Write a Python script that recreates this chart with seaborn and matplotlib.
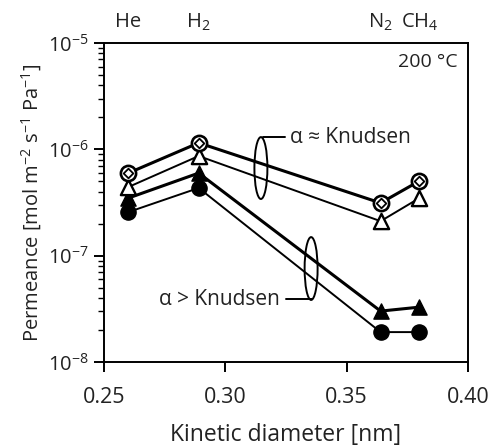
import numpy as np
import pandas as pd
import matplotlib
matplotlib.use("Agg")
import matplotlib.pyplot as plt
import seaborn as sns
from matplotlib.patches import Ellipse

# ---- data ----
gases = ["He", "H$_2$", "N$_2$", "CH$_4$"]
kinetic_diameter = [0.260, 0.289, 0.364, 0.380]
perm_circle_open = [5.98e-7, 1.15e-6, 3.13e-7, 5.04e-7]
perm_triangle_open = [4.42e-7, 8.65e-7, 2.11e-7, 3.48e-7]
perm_triangle_filled = [3.48e-7, 5.98e-7, 3.01e-8, 3.28e-8]
perm_circle_filled = [2.57e-7, 4.33e-7, 1.91e-8, 1.91e-8]
x_ticks = [0.25, 0.30, 0.35, 0.40]
x_tick_labels = ["0.25", "0.30", "0.35", "0.40"]

sns.set_theme(style="ticks")
plt.rcParams["font.family"] = ["Open Sans", "DejaVu Sans"]
plt.rcParams["mathtext.default"] = "regular"

fig = plt.figure(figsize=(4.91, 4.48), dpi=100)
ax = fig.add_axes([0.212, 0.192, 0.741, 0.712])

series = [
    (perm_circle_open, 2.2),
    (perm_triangle_open, 1.4),
    (perm_triangle_filled, 2.2),
    (perm_circle_filled, 1.4),
]
for vals, lw in series:
    df = pd.DataFrame({"x": kinetic_diameter, "y": vals})
    sns.lineplot(data=df, x="x", y="y", ax=ax, color="black", linewidth=lw,
                 sort=False, zorder=2)

def scatter(vals, marker, size, face, lw=1.5, z=3):
    df = pd.DataFrame({"x": kinetic_diameter, "y": vals})
    sns.scatterplot(data=df, x="x", y="y", ax=ax, marker=marker, s=size,
                    facecolor=face, edgecolor="black", linewidth=lw, zorder=z)

scatter(perm_circle_filled, "o", 120, "black", 1.0)
scatter(perm_triangle_filled, "^", 120, "black", 1.0)
scatter(perm_triangle_open, "^", 120, "white", 1.7)
scatter(perm_circle_open, "o", 120, "white", 1.9)
scatter(perm_circle_open, "D", 24, "white", 1.3, z=4)

ax.set_yscale("log")
ax.set_ylim(1e-8, 1e-5)
ax.set_xlim(0.25, 0.40)
ax.set_xticks(x_ticks)
ax.set_xticklabels(x_tick_labels)

for s in ax.spines.values():
    s.set_linewidth(1.4)
    s.set_color("black")

ax.tick_params(axis="both", which="major", direction="out", length=7, width=1.4,
               labelsize=15.5, colors="black", labelcolor="#222222")
ax.tick_params(axis="y", which="major", labelsize=14.5, pad=4)
ax.tick_params(axis="y", which="minor", direction="out", length=4, width=1.0,
               colors="black")
ax.tick_params(axis="x", which="major", pad=11)

ax.set_xlabel("Kinetic diameter [nm]", fontsize=16.5, labelpad=11, color="#222222")
ax.set_ylabel("Permeance [mol m$^{-2}$ s$^{-1}$ Pa$^{-1}$]", fontsize=14.5,
              labelpad=3, color="#222222")

# gas labels above the axes
for gx, gname in zip(kinetic_diameter, gases):
    ax.text(gx, 1.065, gname, transform=ax.get_xaxis_transform(), ha="center",
            va="center", fontsize=14.5, color="#222222")

ax.text(0.973, 0.94, "200 °C", transform=ax.transAxes, ha="right", va="center",
        fontsize=14, color="#222222")

# annotations with ellipses
e1 = Ellipse((0.431, 0.608), 0.0357, 0.194, transform=ax.transAxes,
             fill=False, edgecolor="black", linewidth=1.4, zorder=5)
e2 = Ellipse((0.569, 0.293), 0.0357, 0.197, transform=ax.transAxes,
             fill=False, edgecolor="black", linewidth=1.4, zorder=5)
ax.add_patch(e1)
ax.add_patch(e2)
ax.plot([0.436, 0.497], [0.705, 0.705], transform=ax.transAxes, color="black",
        linewidth=1.4, zorder=5)
ax.plot([0.50, 0.571], [0.197, 0.197], transform=ax.transAxes, color="black",
        linewidth=1.4, zorder=5)
ax.text(0.512, 0.705, "α ≈ Knudsen", transform=ax.transAxes, ha="left",
        va="center", fontsize=15, color="#222222")
ax.text(0.482, 0.197, "α > Knudsen", transform=ax.transAxes, ha="right",
        va="center", fontsize=15, color="#222222")

fig.savefig("out.png", dpi=100)
